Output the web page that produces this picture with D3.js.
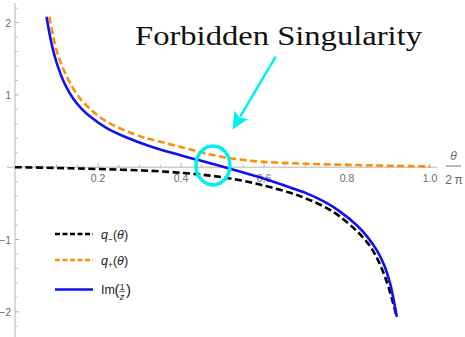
<!DOCTYPE html>
<html><head><meta charset="utf-8">
<script src="https://cdn.jsdelivr.net/npm/d3@7"></script>
<style>body{margin:0;background:#fff}svg{display:block}</style>
</head><body>
<script>
// ---- data ----
const xTicks = [0.2, 0.4, 0.6, 0.8, 1.0];
const xTickLabels = ["0.2", "0.4", "0.6", "0.8", "1.0"];
const yTicks = [-2, -1, 1, 2];
const yTickLabels = ["\u22122", "\u22121", "1", "2"];

const imX = [0.076, 0.088, 0.10, 0.12, 0.14, 0.16, 0.181, 0.221, 0.269, 0.325, 0.38, 0.438, 0.48, 0.518, 0.56, 0.59, 0.63, 0.663, 0.70, 0.743, 0.78, 0.823, 0.85, 0.872, 0.89, 0.904, 0.92];
const imY = [2.08, 1.71, 1.45, 1.15, 0.95, 0.81, 0.70, 0.54, 0.41, 0.29, 0.195, 0.105, 0.04, -0.02, -0.09, -0.14, -0.215, -0.28, -0.355, -0.47, -0.60, -0.80, -0.97, -1.15, -1.36, -1.61, -2.07];

const qPlusX = [0.083, 0.10, 0.125, 0.157, 0.19, 0.221, 0.26, 0.30, 0.345, 0.406, 0.46, 0.518, 0.59, 0.687, 0.8, 0.9, 1.0];
const qPlusY = [2.08, 1.62, 1.25, 0.95, 0.76, 0.63, 0.52, 0.43, 0.36, 0.27, 0.19, 0.125, 0.078, 0.05, 0.033, 0.02, 0.01];

const qMinusX = [0.0, 0.1, 0.2, 0.325, 0.406, 0.46, 0.518, 0.59, 0.663, 0.70, 0.743, 0.78, 0.823, 0.85, 0.867, 0.885, 0.9, 0.92];
const qMinusY = [0.0, -0.01, -0.025, -0.05, -0.08, -0.11, -0.155, -0.24, -0.355, -0.43, -0.54, -0.67, -0.88, -1.05, -1.20, -1.42, -1.66, -2.07];

const legendSubs = ["\u2212", "+"];
const annotation = "Forbidden Singularity";

// ---- drawing ----
const W = 465, H = 337;
const svg = d3.select("body").append("svg").attr("width", W).attr("height", H);

const x = d3.scaleLinear().domain([0, 1]).range([15, 430]);
const y = d3.scaleLinear().domain([-2, 2]).range([311.8, 22.6]);

const axisColor = "#b5b5b5", labelColor = "#6a6a6a";

// x axis
const gx = svg.append("g");
gx.append("line").attr("x1", 7).attr("x2", 437).attr("y1", y(0)).attr("y2", y(0))
  .attr("stroke", axisColor).attr("stroke-width", 1);
const xMinor = d3.range(1, 21).map(i => i * 0.05);
gx.selectAll("line.t").data(xMinor).join("line")
  .attr("x1", d => x(d)).attr("x2", d => x(d))
  .attr("y1", y(0)).attr("y2", d => y(0) - (Math.abs(d * 5 - Math.round(d * 5)) < 1e-6 ? 4 : 2.5))
  .attr("stroke", axisColor);
gx.selectAll("text").data(xTicks).join("text")
  .attr("x", d => x(d)).attr("y", y(0) + 15)
  .attr("text-anchor", "middle").attr("font-family", "Liberation Sans, Arial, sans-serif")
  .attr("font-size", 10.5).attr("fill", labelColor)
  .text((d, i) => xTickLabels[i]);

// y axis
const gy = svg.append("g");
gy.append("line").attr("x1", x(0)).attr("x2", x(0)).attr("y1", 3).attr("y2", H)
  .attr("stroke", axisColor).attr("stroke-width", 1);
const yMinor = d3.range(-11, 12).map(i => i * 0.2).filter(d => Math.abs(d) > 1e-6);
gy.selectAll("line.t").data(yMinor).join("line")
  .attr("y1", d => y(d)).attr("y2", d => y(d))
  .attr("x1", x(0)).attr("x2", d => x(0) + (Math.abs(d - Math.round(d)) < 1e-6 ? 4 : 2.5))
  .attr("stroke", axisColor);
gy.selectAll("text").data(yTicks).join("text")
  .attr("x", x(0) - 4).attr("y", d => y(d) + 4)
  .attr("text-anchor", "end").attr("font-family", "Liberation Sans, Arial, sans-serif")
  .attr("font-size", 10.5).attr("fill", labelColor)
  .text((d, i) => yTickLabels[i]);

// axis label theta / 2 pi
const ax = svg.append("g").attr("fill", labelColor).attr("font-family", "Liberation Sans, Arial, sans-serif");
ax.append("text").attr("x", 453.5).attr("y", 160).attr("text-anchor", "middle")
  .attr("font-size", 12).attr("font-style", "italic").text("\u03B8");
ax.append("line").attr("x1", 446).attr("x2", 461).attr("y1", 166).attr("y2", 166)
  .attr("stroke", labelColor).attr("stroke-width", 0.9);
ax.append("text").attr("x", 454).attr("y", 184).attr("text-anchor", "middle")
  .attr("font-size", 12).text("2\u2009\u03C0");

// curves
const line = d3.line().x(d => x(d[0])).y(d => y(d[1])).curve(d3.curveCatmullRom.alpha(0.5));
const series = [
  {xs: qPlusX, ys: qPlusY, color: "#ff8c0a", dash: "7,3.5"},
  {xs: qMinusX, ys: qMinusY, color: "#000000", dash: "7,3.5"},
  {xs: imX, ys: imY, color: "#1010f0", dash: null}
];
svg.append("g").selectAll("path").data(series).join("path")
  .attr("d", s => line(s.xs.map((v, i) => [v, s.ys[i]])))
  .attr("fill", "none").attr("stroke", s => s.color).attr("stroke-width", 2.6)
  .attr("stroke-dasharray", s => s.dash);

// cyan circle
svg.append("ellipse").attr("cx", x(0.477)).attr("cy", y(0.025))
  .attr("rx", 17).attr("ry", 19.5).attr("fill", "none")
  .attr("stroke", "#00f0f0").attr("stroke-width", 3.5);

// arrow
const ax1 = 275.7, ay1 = 56.7, ax2 = 232.5, ay2 = 129.5;
const ang = Math.atan2(ay2 - ay1, ax2 - ax1);
const headL = 17, headW = 8;
const bx = ax2 - headL * Math.cos(ang), by = ay2 - headL * Math.sin(ang);
svg.append("line").attr("x1", ax1).attr("y1", ay1).attr("x2", bx + 2 * Math.cos(ang)).attr("y2", by + 2 * Math.sin(ang))
  .attr("stroke", "#00f0f0").attr("stroke-width", 2.5);
svg.append("path").attr("d", `M${ax2},${ay2}L${bx - headW * Math.sin(ang)},${by + headW * Math.cos(ang)}L${bx + 3 * Math.cos(ang)},${by + 3 * Math.sin(ang)}L${bx + headW * Math.sin(ang)},${by - headW * Math.cos(ang)}Z`)
  .attr("fill", "#00f0f0");

// annotation text
svg.append("text").attr("x", 135).attr("y", 45)
  .attr("font-family", "Liberation Serif, DejaVu Serif, serif").attr("font-size", 28)
  .attr("textLength", 287).attr("lengthAdjust", "spacingAndGlyphs")
  .attr("fill", "#111").text(annotation);

// legend
const lg = svg.append("g");
const legendRows = [
  {yy: 234, color: "#000", dash: "5,2.5"},
  {yy: 260, color: "#ff8c0a", dash: "5,2.5"},
  {yy: 289.5, color: "#1010f0", dash: null}
];
lg.selectAll("line").data(legendRows).join("line")
  .attr("x1", 55).attr("x2", 93).attr("y1", d => d.yy).attr("y2", d => d.yy)
  .attr("stroke", d => d.color).attr("stroke-width", 2.6).attr("stroke-dasharray", d => d.dash);
const lf = "Liberation Sans, Arial, sans-serif";
[0, 1].forEach(i => {
  const t = lg.append("text").attr("x", 101).attr("y", legendRows[i].yy + 4.5)
    .attr("font-family", lf).attr("font-size", 12.5).attr("fill", "#222");
  t.append("tspan").attr("font-style", "italic").text("q");
  t.append("tspan").attr("font-size", 8.5).attr("dy", 3).text(legendSubs[i]);
  t.append("tspan").attr("dy", -3).text("(");
  t.append("tspan").attr("font-style", "italic").text("\u03B8");
  t.append("tspan").text(")");
});
const iy = legendRows[2].yy;
lg.append("text").attr("x", 101).attr("y", iy + 4.5).attr("font-family", lf).attr("font-size", 12.5)
  .attr("fill", "#222").text("Im");
lg.append("text").attr("x", 114.5).attr("y", iy + 5).attr("font-family", lf).attr("font-size", 15)
  .attr("fill", "#222").text("(");
lg.append("text").attr("x", 122).attr("y", iy + 0.5).attr("text-anchor", "middle").attr("font-family", lf)
  .attr("font-size", 8.5).attr("fill", "#222").text("1");
lg.append("line").attr("x1", 119).attr("x2", 125).attr("y1", iy + 2).attr("y2", iy + 2)
  .attr("stroke", "#222").attr("stroke-width", 0.7);
lg.append("text").attr("x", 122).attr("y", iy + 10.5).attr("text-anchor", "middle").attr("font-family", lf)
  .attr("font-size", 9).attr("font-style", "italic").attr("fill", "#222").text("z");
lg.append("text").attr("x", 126).attr("y", iy + 5).attr("font-family", lf).attr("font-size", 15)
  .attr("fill", "#222").text(")");
</script>
</body></html>
